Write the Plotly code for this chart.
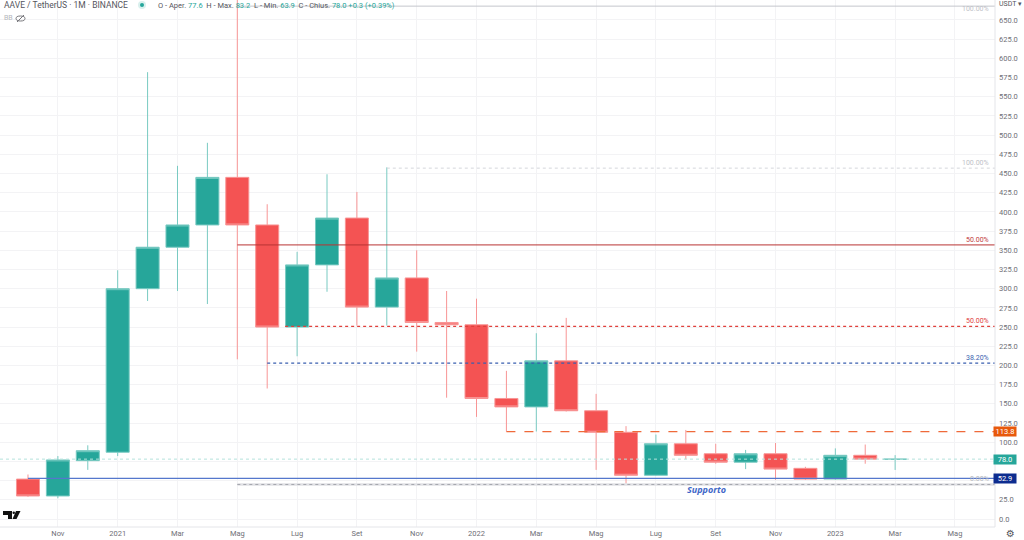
import plotly.graph_objects as go

months = ["2020-10","2020-11","2020-12","2021-01","2021-02","2021-03","2021-04","2021-05","2021-06","2021-07",
          "2021-08","2021-09","2021-10","2021-11","2021-12","2022-01","2022-02","2022-03","2022-04","2022-05",
          "2022-06","2022-07","2022-08","2022-09","2022-10","2022-11","2022-12","2023-01","2023-02","2023-03"]
future_months = ["2023-04","2023-05"]
opens  = [52,30,76,87,300,354,383,445,383,250,331,392,276,314,256,253,157,146,206,141,113,57,98,85,74,85,66,52,83,77.6]
highs  = [58,82,96,324,582,460,490,690,410,348,449,426,458,350,297,287,193,242,262,163,121,110,116,98,90,99,68,92,97,83.2]
lows   = [29,27,64,82,284,297,280,208,170,212,296,252,252,218,158,133,114,114,140,64,46,56,78,72,65,51,51,51,72,63.9]
closes = [30,77,89,300,354,383,445,383,250,331,392,276,314,256,253,157,146,206,141,113,57,98,83,74,85,65,52,83,78,78.0]

x_tick_months = ["2020-11","2021-01","2021-03","2021-05","2021-07","2021-09","2021-11","2022-01","2022-03","2022-05","2022-07","2022-09","2022-11","2023-01","2023-03","2023-05"]
x_tick_labels = ["Nov","2021","Mar","Mag","Lug","Set","Nov","2022","Mar","Mag","Lug","Set","Nov","2023","Mar","Mag"]
y_hidden = [50,75,675]
y_grid = list(range(0,676,25))

GREEN="#26a69a"; RED="#f45353"; GRID="#f3f3f5"; TXT="#6f6f76"
X0, X1 = -0.936, 32.34
Y0, Y1 = -10.4, 676
PW, PH = 995, 527

def px(x): return x/PW
def py(y): return 1-y/PH

fig = go.Figure(go.Candlestick(x=months, open=opens, high=highs, low=lows, close=closes,
    increasing=dict(fillcolor=GREEN, line=dict(color="#79cac2", width=1)),
    decreasing=dict(fillcolor=RED, line=dict(color="#f89595", width=1)),
    whiskerwidth=0, showlegend=False))

# (level, start index, colour, dash, width)
levels = [(668, 7, "#c4c6cd", "solid", 1),
          (457, 12, "#d4d6db", "dot", 1),
          (357, 7, "#b93333", "solid", 1),
          (251, 8.6, "#e0413c", "dot", 1.3),
          (203, 8, "#3a5fb0", "dot", 1.3),
          (113.8, 16, "#ef6a3a", "dash", 1.3),
          (78.0, -0.936, "#b5e2dd", "dot", 1),
          (52.9, 0, "#5577cc", "solid", 1.2),
          (45, 7, "#e0e1e5", "solid", 2.5),
          (45, 7, "#a4a6ad", "dot", 1)]
shapes = [dict(type="line", xref="x", yref="y", x0=s, x1=X1, y0=v, y1=v,
               line=dict(color=c, dash=d, width=w), layer="above") for v, s, c, d, w in levels]

fib = [(668,"100.00%","#c0c2c8"),(457,"100.00%","#c0c2c8"),(357,"50.00%","#c23b3b"),(251,"50.00%","#e0413c"),(203,"38.20%","#3a5fb0"),(45,"0.00%","#b8bac0")]
ann = []
for v,t,c in fib:
    ann.append(dict(x=px(991), xref="paper", y=v, yref="y", text=t, showarrow=False, yshift=5, xanchor="right",
                    font=dict(size=7, color=c, family="Roboto")))
ann[0]["y"]=py(3); ann[0]["yref"]="paper"; ann[0]["yshift"]=0

for v, t, c in [(113.8,"113.8","#e8590c"),(78.0,"78.0",GREEN),(52.9,"52.9","#0d2c8f")]:
    ann.append(dict(x=px(1005), xref="paper", xanchor="center", y=v, yref="y", text=t, showarrow=False, bgcolor=c,
                    width=22, height=9, font=dict(size=7.5, color="white", family="Roboto"), borderpad=0))

ann.append(dict(x=22.7, xref="x", y=39, yref="y", text="<i><b>Supporto</b></i>", showarrow=False,
                font=dict(size=9, color="#3f67c8", family="Noto Sans")))
ann.append(dict(x=px(2), xref="paper", y=py(5), yref="paper", yanchor="middle", xanchor="left", showarrow=False,
    text="AAVE / TetherUS · 1M · BINANCE", font=dict(size=8.5,color="#55555c",family="Roboto")))
ann.append(dict(x=px(156), xref="paper", y=py(5), yref="paper", yanchor="middle", xanchor="left", showarrow=False,
    text=("O - Aper. <span style='color:#26a69a'>77.6</span>  H - Max. <span style='color:#26a69a'>83.2</span>  "
          "L - Min. <span style='color:#26a69a'>63.9</span>  C - Chius. <span style='color:#26a69a'>78.0 +0.3 (+0.39%)</span>"),
    font=dict(size=7.5,color="#55555c",family="Roboto")))
ann.append(dict(x=px(2), xref="paper", y=py(18), yref="paper", yanchor="middle", xanchor="left", showarrow=False,
    text="BB", font=dict(size=7,color="#b5b7bd",family="Roboto")))
ann.append(dict(x=px(1010), xref="paper", y=py(533.5), yref="paper", yanchor="middle", xanchor="center", showarrow=False,
    text="⚙", font=dict(size=10,color="#55555c",family="DejaVu Sans")))
ann.append(dict(x=px(1010), xref="paper", y=py(4), yref="paper", yanchor="middle", xanchor="center", showarrow=False,
    text="USDT ▾", font=dict(size=7,color="#55555c",family="Roboto")))

def pts(*p):
    return "M " + " L ".join(f"{px(a):.5f},{py(b):.5f}" for a,b in p) + " Z"

# Status dot, TradingView mark and the crossed-eye icon, placed in page pixels
shapes += [
    dict(type="circle", xref="paper", yref="paper", x0=px(138), x1=px(146), y0=py(9), y1=py(1), fillcolor="#d9f0ed", line=dict(width=0), layer="above"),
    dict(type="circle", xref="paper", yref="paper", x0=px(140), x1=px(144), y0=py(7), y1=py(3), fillcolor=GREEN, line=dict(width=0), layer="above"),
    dict(type="path", xref="paper", yref="paper", path=pts((3,511),(12,511),(12,519),(8,519),(8,515),(3,515)), fillcolor="#111", line=dict(width=0), layer="above"),
    dict(type="circle", xref="paper", yref="paper", x0=px(12.5), x1=px(15), y0=py(514), y1=py(511.5), fillcolor="#111", line=dict(width=0), layer="above"),
    dict(type="path", xref="paper", yref="paper", path=pts((16,511),(20.5,511),(16.5,519),(12.5,519)), fillcolor="#111", line=dict(width=0), layer="above"),
    dict(type="circle", xref="paper", yref="paper", x0=px(16), x1=px(25), y0=py(21), y1=py(16), fillcolor="rgba(0,0,0,0)", line=dict(color="#77777c", width=1), layer="above"),
    dict(type="line", xref="paper", yref="paper", x0=px(17), x1=px(24), y0=py(22), y1=py(15), line=dict(color="#77777c", width=1), layer="above"),
    dict(type="line", xref="paper", yref="paper", x0=0, x1=1, y0=0, y1=0, line=dict(color="#e4e5e9", width=1)),
    dict(type="line", xref="paper", yref="paper", x0=1, x1=1, y0=0, y1=1, line=dict(color="#e4e5e9", width=1)),
]

fig.update_layout(width=1024, height=540, autosize=False, margin=dict(l=0, r=29, t=0, b=13),
    paper_bgcolor="white", plot_bgcolor="white", shapes=shapes, annotations=ann, showlegend=False, boxgap=0.23, boxgroupgap=0,
    xaxis=dict(type="category", categoryorder="array", categoryarray=months+future_months, range=[X0, X1], rangeslider=dict(visible=False),
               tickmode="array", tickvals=x_tick_months, ticktext=x_tick_labels, gridcolor=GRID, gridwidth=1,
               showline=False, ticks="", tickfont=dict(size=7.5, color=TXT, family="Roboto"), zeroline=False),
    yaxis=dict(side="right", range=[Y0, Y1], tickmode="array", tickvals=y_grid,
               ticktext=["" if v in y_hidden else f"{v:.1f}" for v in y_grid], gridcolor=GRID, gridwidth=1,
               showline=False, ticks="", ticklabelstandoff=3, tickfont=dict(size=7.5, color=TXT, family="Roboto"), zeroline=False, automargin=False))

fig.write_html("out.html", post_script="document.body.style.margin='0';", config=dict(displayModeBar=False))
